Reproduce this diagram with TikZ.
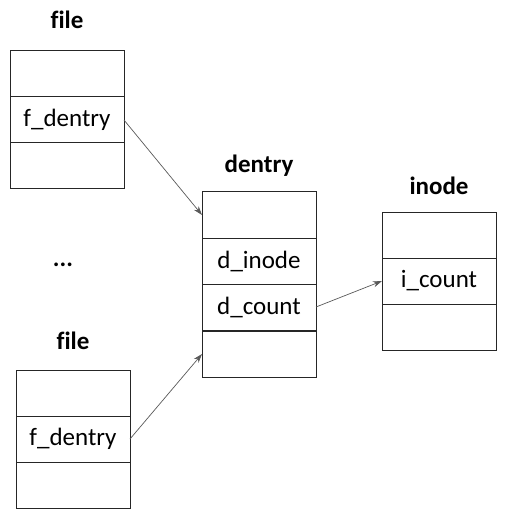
\documentclass[tikz,border=0pt]{standalone}
\usepackage{fontspec}
\setmainfont{Carlito}[Ligatures=CommonOff]
\usetikzlibrary{positioning,arrows.meta}

\begin{document}
\begin{tikzpicture}[x=1pt,y=-1pt,
  cell/.style={draw=black!85,line width=1pt,outer sep=0pt,minimum width=114pt,minimum height=46pt,inner sep=0pt,font=\fontsize{25}{28}\selectfont},
  title/.style={font=\fontsize{25}{28}\selectfont\bfseries},
  link/.style={draw=black!65,line width=0.7pt,-{Stealth[length=9pt,width=6pt]}}]
  \useasboundingbox (0,0) rectangle (526,529);
  % file (top)
  \node[title] (tfile1) at (67,20) {file};
  \node[cell] (fa1) at (67,74) {};
  \node[cell,below=0pt of fa1] (fa2) {f\_dentry};
  \node[cell,below=0pt of fa2] (fa3) {};
  % dentry
  \node[title] (tdentry) at (259,166) {dentry};
  \node[cell] (d1) at (259,215) {};
  \node[cell,below=0pt of d1] (d2) {d\_inode};
  \node[cell,below=0pt of d2] (d3) {d\_count};
  \node[cell,below=1pt of d3] (d4) {};
  % inode
  \node[title] (tinode) at (439,186) {inode};
  \node[cell] (i1) at (439,235) {};
  \node[cell,below=0pt of i1] (i2) {i\_count};
  \node[cell,below=0pt of i2] (i3) {};
  \node[title] (dots) at (63,265) {...};
  % file (bottom)
  \node[title] (tfile2) at (73,341) {file};
  \node[cell] (fb1) at (73,393) {};
  \node[cell,below=0pt of fb1] (fb2) {f\_dentry};
  \node[cell,below=0pt of fb2] (fb3) {};
  \draw[link] (fa2.east) -- (d1.west);
  \draw[link] (d3.east) -- (i2.west);
  \draw[link] (fb2.east) -- (d4.west);
\end{tikzpicture}
\end{document}
